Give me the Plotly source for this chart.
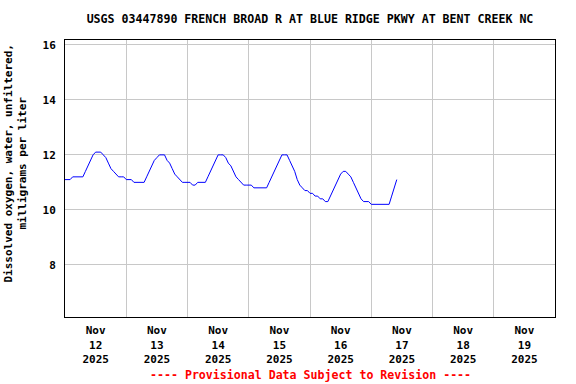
import pandas as pd
import plotly.graph_objects as go

# Hourly dissolved oxygen (mg/L), starting 2025-11-12 00:00
start = "2025-11-12 00:00"
do_nov12 = [11.1, 11.1, 11.1, 11.2, 11.2, 11.2, 11.2, 11.2, 11.4, 11.6, 11.8, 12.0,
            12.1, 12.1, 12.1, 12.0, 11.9, 11.7, 11.5, 11.4, 11.3, 11.2, 11.2, 11.2]
do_nov13 = [11.1, 11.1, 11.1, 11.0, 11.0, 11.0, 11.0, 11.0, 11.2, 11.4, 11.6, 11.8,
            11.9, 12.0, 12.0, 12.0, 11.8, 11.7, 11.5, 11.3, 11.2, 11.1, 11.0, 11.0]
do_nov14 = [11.0, 11.0, 10.9, 10.9, 11.0, 11.0, 11.0, 11.0, 11.2, 11.4, 11.6, 11.8,
            12.0, 12.0, 12.0, 11.9, 11.7, 11.6, 11.4, 11.2, 11.1, 11.0, 10.9, 10.9]
do_nov15 = [10.9, 10.9, 10.8, 10.8, 10.8, 10.8, 10.8, 10.8, 11.0, 11.2, 11.4, 11.6,
            11.8, 12.0, 12.0, 12.0, 11.8, 11.6, 11.4, 11.1, 10.9, 10.8, 10.7, 10.7]
do_nov16 = [10.6, 10.6, 10.5, 10.5, 10.4, 10.4, 10.3, 10.3, 10.5, 10.7, 10.9, 11.1,
            11.3, 11.4, 11.4, 11.3, 11.2, 11.0, 10.8, 10.6, 10.4, 10.3, 10.3, 10.3]
do_nov17 = [10.2, 10.2, 10.2, 10.2, 10.2, 10.2, 10.2, 10.2, 10.5, 10.8, 11.1]

values = do_nov12 + do_nov13 + do_nov14 + do_nov15 + do_nov16 + do_nov17
times = pd.date_range(start, periods=len(values), freq="h")

day_starts = pd.date_range("2025-11-12", "2025-11-20", freq="D")
label_times = pd.date_range("2025-11-12 12:00", periods=8, freq="D")
label_text = ["Nov<br>12<br>2025", "Nov<br>13<br>2025", "Nov<br>14<br>2025",
              "Nov<br>15<br>2025", "Nov<br>16<br>2025", "Nov<br>17<br>2025",
              "Nov<br>18<br>2025", "Nov<br>19<br>2025"]
y_ticks = [8, 10, 12, 14, 16]

title = "USGS 03447890 FRENCH BROAD R AT BLUE RIDGE PKWY AT BENT CREEK NC"
y_title = "Dissolved oxygen, water, unfiltered,<br>milligrams per liter"
footer = "---- Provisional Data Subject to Revision ----"

font = "DejaVu Sans Mono"

fig = go.Figure()
fig.add_trace(go.Scatter(x=times, y=values, mode="lines",
                         line=dict(color="#0000FF", width=1), hoverinfo="skip",
                         showlegend=False))

fig.update_layout(
    width=576, height=384,
    margin=dict(l=65, r=21, t=40, b=67),
    paper_bgcolor="white", plot_bgcolor="white",
    font=dict(family=font, color="black", size=11),
    title=dict(text="<b>" + title + "</b>", x=(65 + 555) / 2 / 576, xanchor="center",
               y=1 - 19 / 384, yanchor="middle",
               font=dict(family=font, size=11.6, color="black")),
    xaxis=dict(
        range=[day_starts[0], day_starts[-1]],
        tickvals=label_times, ticktext=["<b>" + t + "</b>" for t in label_text],
        ticks="", showgrid=False, tickangle=0, ticklabelstandoff=3,
        tickfont=dict(family=font, size=11, color="black"),
        showline=True, linecolor="black", linewidth=1, mirror=True,
        minor=dict(tickvals=day_starts, showgrid=True, gridcolor="#c8c8c8",
                   gridwidth=1, ticks=""),
        zeroline=False,
    ),
    yaxis=dict(
        range=[6.1, 16.18],
        tickvals=y_ticks, ticktext=["<b>%d</b>" % v for v in y_ticks],
        ticks="", ticklabelstandoff=6,
        showgrid=True, gridcolor="#c8c8c8", gridwidth=1,
        tickfont=dict(family=font, size=11, color="black"),
        showline=True, linecolor="black", linewidth=1, mirror=True,
        zeroline=False,
    ),
    annotations=[
        dict(text="<b>" + y_title + "</b>", textangle=-90, xref="paper", yref="paper",
             x=(15 - 65) / 490, y=(317 - 163.5) / 277, xanchor="center", yanchor="middle",
             showarrow=False, font=dict(family=font, size=11, color="black")),
        dict(text="<b>" + footer + "</b>", xref="paper", yref="paper",
             x=0.5, y=-(375 - 317) / 277, xanchor="center", yanchor="middle",
             showarrow=False, font=dict(family=font, size=11.6, color="red")),
    ],
)

fig.write_html("out.html", config={"displayModeBar": False},
               post_script="document.body.style.margin='0';document.body.style.padding='0';")
